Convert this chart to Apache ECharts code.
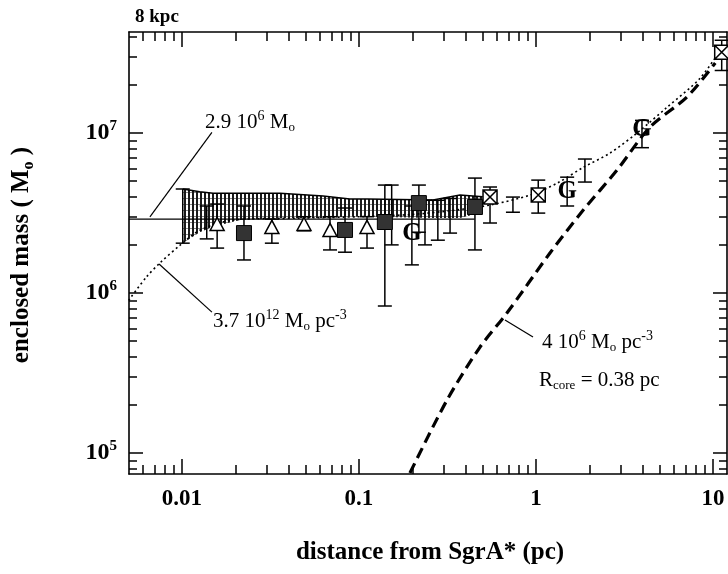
<!DOCTYPE html>
<html>
<head>
<meta charset="utf-8">
<script src="https://cdn.jsdelivr.net/npm/echarts@6/dist/echarts.min.js"></script>
<title>enclosed mass vs distance from SgrA*</title>
<style>
  html, body { margin: 0; background: #fff; }
  #main { width: 728px; height: 574px; }
</style>
</head>
<body>
<div id="main"></div>
<script>
var L = Math.log10;
var SERIF = '"Liberation Serif", "DejaVu Serif", serif';

// hatched band (many overlapping estimates), radius in pc, mass in Msun
var bandR  = [0.0101, 0.0126, 0.0150, 0.0213, 0.0358, 0.0627, 0.0889, 0.111, 0.262, 0.372, 0.50];
var bandLo = [2.05e6, 2.4e6, 2.6e6, 2.86e6, 2.94e6, 2.94e6, 3.0e6, 3.0e6, 2.94e6, 2.94e6, 3.2e6];
var bandHi = [4.47e6, 4.3e6, 4.2e6, 4.2e6, 4.2e6, 4.04e6, 3.87e6, 3.87e6, 3.81e6, 4.1e6, 4.0e6];

// models
var pointR = [0.005, 0.45];
var pointM = [2.9e6, 2.9e6];
var clusterR = [0.005, 0.0063, 0.0075, 0.0098, 0.0127, 0.0194, 0.046, 0.1, 0.2, 0.35, 0.55, 0.93, 1.32, 1.85, 2.62, 3.72, 5.5, 8.45, 11.4];
var clusterM = [9.0e5, 1.26e6, 1.54e6, 2.0e6, 2.48e6, 2.86e6, 2.94e6, 3.0e6, 3.1e6, 3.3e6, 3.55e6, 4.1e6, 4.87e6, 6.1e6, 7.5e6, 1.0e7, 1.45e7, 2.2e7, 3.5e7];
var coreR = [0.194, 0.314, 0.483, 0.685, 1.2, 1.85, 2.87, 4.41, 7.13, 10.3];
var coreM = [7.5e4, 2.14e5, 4.6e5, 7.5e5, 1.78e6, 3.3e6, 5.87e6, 1.09e7, 1.68e7, 2.74e7];

// filled squares
var sqR  = [0.0224, 0.0834, 0.140, 0.218, 0.452];
var sqM  = [2.37e6, 2.48e6, 2.78e6, 3.65e6, 3.45e6];
var sqLo = [1.61e6, 1.80e6, 8.3e5, 2.4e6, 1.86e6];
var sqHi = [3.5e6, 3.4e6, 4.73e6, 4.73e6, 5.23e6];

// open triangles
var triR  = [0.0158, 0.0322, 0.0489, 0.0686, 0.111];
var triM  = [2.7e6, 2.59e6, 2.7e6, 2.48e6, 2.59e6];
var triLo = [1.91e6, 2.05e6, 2.45e6, 1.86e6, 1.91e6];
var triHi = [3.6e6, 2.9e6, 3.0e6, 3.0e6, 3.0e6];

// "G" points
var gR  = [0.199, 1.5, 3.97];
var gM  = [2.37e6, 4.28e6, 1.05e7];
var gLo = [1.5e6, 3.5e6, 8.1e6];
var gHi = [3.5e6, 5.3e6, 1.2e7];

// crossed boxes
var xbR  = [0.55, 1.03, 11.2];
var xbM  = [3.98e6, 4.1e6, 3.2e7];
var xbLo = [2.74e6, 3.16e6, 2.46e7];
var xbHi = [4.6e6, 5.08e6, 3.8e7];

// bare error bars
var barR  = [0.0101, 0.0138, 0.153, 0.236, 0.279, 0.327, 0.741, 1.89];
var barLo = [2.05e6, 2.18e6, 2.0e6, 2.0e6, 2.14e6, 2.37e6, 3.2e6, 4.94e6];
var barHi = [4.47e6, 3.5e6, 4.73e6, 3.8e6, 3.8e6, 3.9e6, 3.98e6, 6.88e6];

// annotation leader lines [r, M]
var lead1 = [[0.00659, 2.99e6], [0.01476, 1.01e7]];
var lead2 = [[0.00742, 1.52e6], [0.01476, 7.6e5]];
var lead3 = [[0.668, 6.78e5], [0.962, 5.31e5]];

// axes
var xRange = [0.00502, 12];
var yRange = [7.4e4, 4.28e7];
var xTickVals = [0.01, 0.1, 1, 10];
var xTickLabels = ['0.01', '0.1', '1', '10'];
var yTickVals = [1e5, 1e6, 1e7];
var yTickLabels = ['5', '6', '7'];

function minors(lo, hi) {
  var out = [];
  for (var e = Math.floor(L(lo)); e <= Math.ceil(L(hi)); e++) {
    for (var k = 2; k <= 9; k++) {
      var v = k * Math.pow(10, e);
      if (v >= lo && v <= hi) out.push(L(v));
    }
  }
  return out;
}
function pick(vals, labels, v) {
  for (var i = 0; i < vals.length; i++) if (Math.abs(L(vals[i]) - v) < 1e-6) return labels[i];
  return '';
}
function pts(r, m) { return r.map(function (v, i) { return [L(v), L(m[i])]; }); }

var xMaj = xTickVals.map(L), yMaj = yTickVals.map(L);
var xMin = minors(xRange[0], xRange[1]), yMin = minors(yRange[0], yRange[1]);

function xAx(pos, ticks, len, line, label) {
  return {
    type: 'value', position: pos, min: L(xRange[0]), max: L(xRange[1]),
    splitLine: { show: false },
    axisLine: { show: line, onZero: false, lineStyle: { color: '#000', width: 1.6 } },
    axisTick: { show: true, inside: true, length: len, customValues: ticks, lineStyle: { color: '#000', width: 1.5 } },
    axisLabel: label ? {
      customValues: xMaj, margin: 14, color: '#000', fontFamily: SERIF, fontWeight: 'bold', fontSize: 23,
      formatter: function (v) { return pick(xTickVals, xTickLabels, v); }
    } : { show: false }
  };
}
function yAx(pos, ticks, len, line, label) {
  return {
    type: 'value', position: pos, min: L(yRange[0]), max: L(yRange[1]),
    splitLine: { show: false },
    axisLine: { show: line, onZero: false, lineStyle: { color: '#000', width: 1.6 } },
    axisTick: { show: true, inside: true, length: len, customValues: ticks, lineStyle: { color: '#000', width: 1.5 } },
    axisLabel: label ? {
      customValues: yMaj, margin: 12, color: '#000', fontFamily: SERIF, fontWeight: 'bold', fontSize: 24,
      formatter: function (v) { return '10{sup|' + pick(yTickVals, yTickLabels, v) + '}'; },
      rich: { sup: { fontFamily: SERIF, fontWeight: 'bold', fontSize: 15, color: '#000', padding: [0, 0, 14, 0] } }
    } : { show: false }
  };
}

// vertical hatch for the band
var hatch = document.createElement('canvas');
hatch.width = 4; hatch.height = 6;
var hc = hatch.getContext('2d');
hc.fillStyle = '#fff'; hc.fillRect(0, 0, 4, 6);
hc.fillStyle = '#1a1a1a'; hc.fillRect(0, 0, 2, 6);
hc.fillStyle = '#888'; hc.fillRect(2, 0, 2, 1);

function errorSeries(r, lo, hi) {
  return {
    type: 'custom', z: 4, silent: true,
    data: r.map(function (v, i) { return [L(v), L(lo[i]), L(hi[i])]; }),
    encode: { x: 0, y: [1, 2] },
    renderItem: function (params, api) {
      var t = api.coord([api.value(0), api.value(2)]);
      var b = api.coord([api.value(0), api.value(1)]);
      var w = 7, st = { stroke: '#000', lineWidth: 1.5 };
      return { type: 'group', children: [
        { type: 'line', shape: { x1: t[0], y1: t[1], x2: b[0], y2: b[1] }, style: st },
        { type: 'line', shape: { x1: t[0] - w, y1: t[1], x2: t[0] + w, y2: t[1] }, style: st },
        { type: 'line', shape: { x1: b[0] - w, y1: b[1], x2: b[0] + w, y2: b[1] }, style: st }
      ] };
    }
  };
}
function leader(d) {
  return { type: 'line', data: d.map(function (p) { return [L(p[0]), L(p[1])]; }), symbol: 'none', silent: true,
    lineStyle: { color: '#000', width: 1.2 }, z: 5 };
}

// band drawn once as a polygon from all its points
var bandSeries = {
  type: 'custom', z: 1, silent: true,
  data: bandR.map(function (v, i) { return [L(v), L(bandLo[i]), L(bandHi[i])]; }),
  encode: { x: 0, y: [1, 2] },
  renderItem: function (params, api) {
    if (params.dataIndexInside !== 0) return;
    var n = params.dataInsideLength, top = [], bot = [];
    for (var i = 0; i < n; i++) {
      top.push(api.coord([api.value(0, i), api.value(2, i)]));
      bot.unshift(api.coord([api.value(0, i), api.value(1, i)]));
    }
    return { type: 'group', children: [
      { type: 'polygon', shape: { points: top.concat(bot) }, style: { fill: { image: hatch, repeat: 'repeat' }, stroke: null } },
      { type: 'polyline', shape: { points: top }, style: { stroke: '#000', lineWidth: 1.5, fill: null } }
    ] };
  }
};

// "G" letters as markers
var gSeries = {
  type: 'custom', z: 7, silent: true,
  data: pts(gR, gM),
  encode: { x: 0, y: 1 },
  renderItem: function (params, api) {
    var p = api.coord([api.value(0), api.value(1)]);
    return { type: 'text', x: p[0], y: p[1],
      style: { text: 'G', fill: '#000', fontFamily: SERIF, fontWeight: 'bold', fontSize: 25, align: 'center', verticalAlign: 'middle' } };
  }
};

var annoFont = { fontFamily: SERIF, fontSize: 21, fill: '#000' };
var rich = {
  sup: { fontFamily: SERIF, fontSize: 14, fill: '#000', padding: [0, 0, 12, 0] },
  sub: { fontFamily: SERIF, fontSize: 13, fill: '#000', padding: [12, 0, 0, 0] }
};
function anno(x, y, txt) {
  return { type: 'text', x: x, y: y, style: Object.assign({ text: txt, rich: rich, verticalAlign: 'middle' }, annoFont) };
}

var myChart = echarts.init(document.getElementById('main'));
var option = {
  animation: false,
  grid: { left: 129, right: 1, top: 32, bottom: 100 },
  xAxis: [xAx('bottom', xMaj, 15, true, true), xAx('bottom', xMin, 9, false, false),
          xAx('top', xMaj, 15, true, false), xAx('top', xMin, 9, false, false)],
  yAxis: [yAx('left', yMaj, 14, true, true), yAx('left', yMin, 8, false, false),
          yAx('right', yMaj, 14, true, false), yAx('right', yMin, 8, false, false)],
  series: [
    bandSeries,
    { type: 'line', data: pts(pointR, pointM), symbol: 'none', silent: true, lineStyle: { color: '#000', width: 1.3 }, z: 2 },
    { type: 'line', data: pts(clusterR, clusterM), symbol: 'none', silent: true, smooth: 0.3,
      lineStyle: { color: '#000', width: 1.6, type: [2, 3] }, z: 2 },
    { type: 'line', data: pts(coreR, coreM), symbol: 'none', silent: true, smooth: 0.3,
      lineStyle: { color: '#000', width: 3.2, type: [11, 6] }, z: 2 },
    leader(lead1), leader(lead2), leader(lead3),
    errorSeries(barR, barLo, barHi),
    errorSeries(sqR, sqLo, sqHi),
    errorSeries(triR, triLo, triHi),
    errorSeries(gR, gLo, gHi),
    errorSeries(xbR, xbLo, xbHi),
    { type: 'scatter', data: pts(sqR, sqM), symbol: 'rect', symbolSize: 15, z: 6, silent: true,
      itemStyle: { color: '#333', borderColor: '#000', borderWidth: 1, opacity: 1 } },
    { type: 'scatter', data: pts(triR, triM), symbol: 'triangle', symbolSize: [14, 13], z: 6, silent: true,
      itemStyle: { color: '#fff', borderColor: '#000', borderWidth: 1.5, opacity: 1 } },
    { type: 'scatter', data: pts(xbR, xbM), symbol: 'path://M0 0H10V10H0ZM0 0L10 10M10 0L0 10', symbolSize: 14, z: 6, silent: true,
      itemStyle: { color: '#fff', borderColor: '#000', borderWidth: 1.5, opacity: 1 } },
    gSeries
  ],
  graphic: [
    { type: 'text', x: 135, y: 17, style: { text: '8 kpc', fontFamily: SERIF, fontWeight: 'bold', fontSize: 19, fill: '#000', verticalAlign: 'middle' } },
    { type: 'text', x: 22, y: 255, rotation: Math.PI / 2,
      style: { text: 'enclosed mass ( M{sub|o} )', fontFamily: SERIF, fontWeight: 'bold', fontSize: 25, fill: '#000', align: 'center', verticalAlign: 'middle',
        rich: { sub: { fontFamily: SERIF, fontWeight: 'bold', fontSize: 16, fill: '#000', padding: [14, 0, 0, 0] } } } },
    { type: 'text', x: 430, y: 553,
      style: { text: 'distance from SgrA* (pc)', fontFamily: SERIF, fontWeight: 'bold', fontSize: 25, fill: '#000', align: 'center', verticalAlign: 'middle' } },
    anno(205, 122, '2.9 10{sup|6} M{sub|o}'),
    anno(213, 321, '3.7 10{sup|12} M{sub|o} pc{sup|-3}'),
    anno(542, 342, '4 10{sup|6} M{sub|o} pc{sup|-3}'),
    anno(539, 380, 'R{sub|core} = 0.38 pc')
  ]
};
myChart.setOption(option);
window.onresize = function () { myChart.resize(); };
</script>
</body>
</html>
